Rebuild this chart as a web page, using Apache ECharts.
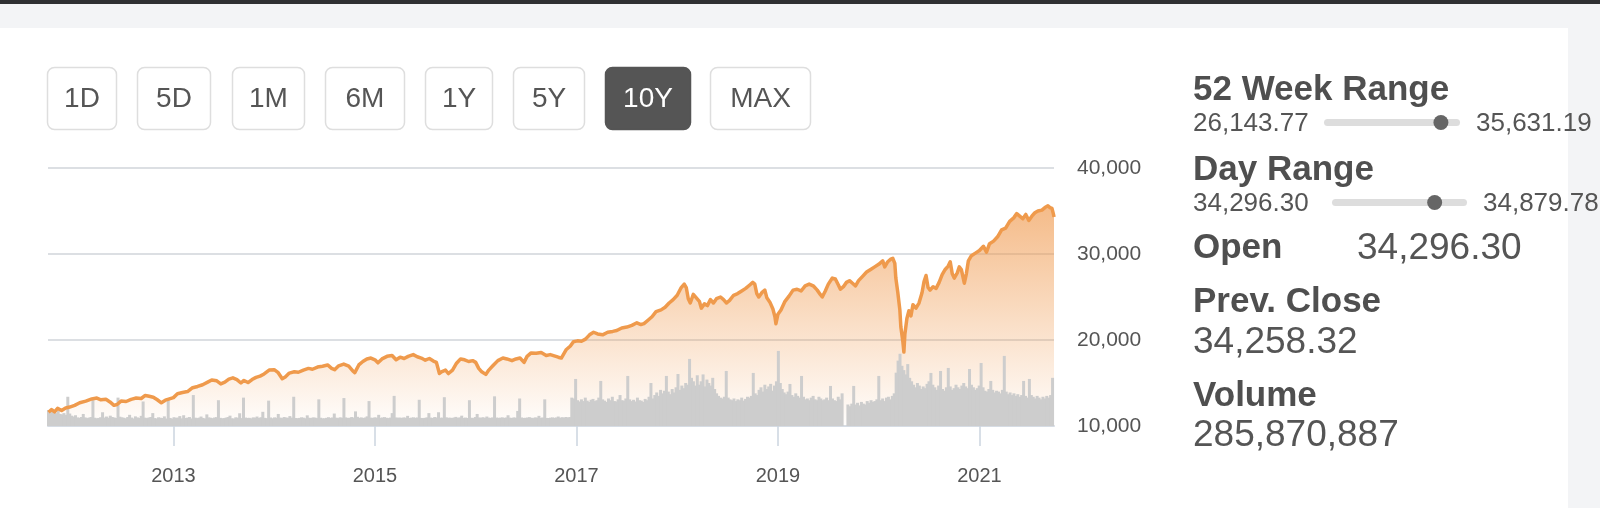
<!DOCTYPE html>
<html>
<head>
<meta charset="utf-8">
<script src="https://cdn.jsdelivr.net/npm/echarts@6/dist/echarts.min.js"></script>
<style>
html,body{margin:0;padding:0;background:#ffffff;}
#chart{width:1600px;height:508px;}
</style>
</head>
<body>
<div id="chart"></div>
<script>
// ---------------- DATA ----------------
const rangeButtons = ['1D', '5D', '1M', '6M', '1Y', '5Y', '10Y', 'MAX'];
const activeButton = '10Y';
const xTickYears = [2013, 2015, 2017, 2019, 2021];
const yMin = 10000, yMax = 40000, yStep = 10000;

// price (decimal year, index level)
const priceDates = [
2011.76,2011.79,2011.82,2011.85,2011.89,2011.93,2011.97,2012.02,2012.07,2012.13,2012.19,2012.24,2012.28,2012.33,2012.37,2012.41,2012.44,2012.48,2012.53,2012.58,
2012.63,2012.68,2012.72,2012.76,2012.80,2012.84,2012.88,2012.92,2012.96,2013.00,2013.04,2013.09,2013.14,2013.19,2013.24,2013.29,2013.34,2013.38,2013.43,2013.47,
2013.51,2013.55,2013.59,2013.63,2013.67,2013.70,2013.74,2013.78,2013.82,2013.86,2013.90,2013.95,2014.00,2014.04,2014.08,2014.11,2014.15,2014.20,2014.24,2014.29,
2014.34,2014.38,2014.43,2014.48,2014.53,2014.57,2014.60,2014.64,2014.69,2014.74,2014.78,2014.80,2014.84,2014.88,2014.92,2014.96,2015.00,2015.03,2015.07,2015.12,
2015.17,2015.21,2015.25,2015.29,2015.33,2015.38,2015.42,2015.46,2015.50,2015.54,2015.58,2015.61,2015.64,2015.66,2015.70,2015.73,2015.77,2015.81,2015.85,2015.89,
2015.93,2015.97,2016.00,2016.03,2016.06,2016.10,2016.13,2016.17,2016.22,2016.27,2016.31,2016.36,2016.40,2016.44,2016.48,2016.51,2016.55,2016.60,2016.65,2016.70,
2016.74,2016.78,2016.82,2016.85,2016.87,2016.90,2016.94,2016.97,2017.01,2017.05,2017.09,2017.13,2017.17,2017.21,2017.26,2017.31,2017.36,2017.40,2017.45,2017.50,
2017.55,2017.60,2017.64,2017.67,2017.71,2017.75,2017.79,2017.84,2017.88,2017.92,2017.96,2018.00,2018.04,2018.07,2018.09,2018.11,2018.13,2018.16,2018.19,2018.22,
2018.24,2018.27,2018.30,2018.33,2018.36,2018.39,2018.43,2018.46,2018.49,2018.52,2018.56,2018.60,2018.64,2018.68,2018.72,2018.75,2018.77,2018.79,2018.81,2018.84,
2018.87,2018.89,2018.92,2018.95,2018.97,2018.98,2019.00,2019.03,2019.07,2019.11,2019.15,2019.19,2019.23,2019.27,2019.31,2019.35,2019.39,2019.42,2019.44,2019.47,
2019.50,2019.54,2019.57,2019.60,2019.62,2019.65,2019.68,2019.71,2019.74,2019.77,2019.80,2019.84,2019.88,2019.92,2019.96,2020.00,2020.04,2020.06,2020.09,2020.12,
2020.14,2020.16,2020.17,2020.19,2020.21,2020.22,2020.24,2020.25,2020.26,2020.28,2020.30,2020.32,2020.34,2020.37,2020.40,2020.43,2020.45,2020.47,2020.49,2020.51,
2020.54,2020.57,2020.60,2020.63,2020.66,2020.69,2020.71,2020.73,2020.75,2020.78,2020.80,2020.82,2020.85,2020.87,2020.89,2020.92,2020.96,2021.00,2021.04,2021.07,
2021.10,2021.14,2021.18,2021.22,2021.26,2021.30,2021.34,2021.37,2021.40,2021.43,2021.46,2021.49,2021.52,2021.55,2021.58,2021.62,2021.65,2021.68,2021.70,2021.72,
2021.735,2021.74
];
const priceValues = [
11600,11900,11650,12050,11800,12100,12200,12400,12700,12900,13150,13250,13050,13100,12800,12400,12500,12900,12850,13100,
13250,13200,13550,13450,13350,13050,12700,13000,13150,13300,13750,13900,14000,14450,14600,14800,15100,15350,15250,14900,
15100,15450,15600,15400,15000,15300,15050,15400,15650,15800,16050,16500,16550,16200,15500,15700,16150,16300,16250,16500,
16700,16600,16850,16950,17100,16700,16550,17000,17200,16950,16400,16200,17100,17500,17800,17900,17700,17350,17800,18100,
18200,17700,18000,17850,18100,18300,18050,17900,17650,17850,17550,17400,16100,16300,16500,16100,16500,17300,17800,17700,
17500,17600,17400,16700,16300,16000,16500,17000,17600,17900,17800,17600,17800,17900,17400,18100,18500,18450,18550,18200,
18300,18150,18000,17900,18300,18900,19300,19800,19900,19850,20100,20600,20900,20700,20600,20900,21000,21100,21400,21500,
21700,22000,21800,21900,22300,22700,23300,23500,23800,24300,24700,25200,26100,26500,26100,24800,24300,25300,24900,24500,
23700,24200,24000,24700,24300,24800,25000,24700,24300,24600,25200,25400,25700,26000,26400,26700,26500,25400,25000,25500,
25800,24900,24400,23600,22700,21900,23000,23500,24500,25100,25800,25900,25700,26300,26500,26300,25800,25300,25000,25700,
26500,27200,27100,26400,25900,26200,26700,26900,26600,26300,26900,27400,27900,28200,28500,28800,29200,28500,29100,29400,
29500,28900,27200,25500,23500,21500,19800,18600,20700,22500,23400,22800,24100,23700,24300,25500,26800,27500,26100,25800,
26200,26000,26700,27600,28200,28600,29100,27700,27200,27800,28500,28200,26600,27700,29200,29800,30100,30400,30900,30200,
31200,31500,32000,32800,33000,33800,34200,34700,34400,34100,34600,33900,34400,34800,35000,35100,35400,35600,35400,35300,
34600,34300
];

// weekly volume samples (millions of shares), first week at volumeStartYear
const volumeStartYear = 2011.76;
const volumeWeekYears = 7 / 365.25;
const volumeValues = [
185,170,200,160,150,175,140,135,150,130,340,145,120,
110,125,100,95,105,140,100,92,98,104,300,96,90,
94,102,160,98,110,96,120,105,99,93,330,108,101,
96,90,104,130,98,88,112,100,94,118,285,97,92,
99,105,150,92,88,101,96,93,112,87,315,94,86,
102,95,98,115,89,125,93,97,104,88,360,97,92,
97,110,94,88,135,100,96,91,99,103,300,95,90,
92,98,104,120,90,87,101,96,148,92,330,98,94,
95,89,100,97,110,93,102,165,95,91,295,99,90,
100,96,140,98,92,104,99,95,115,97,340,93,91,
94,101,97,90,124,96,93,100,98,92,310,96,89,
90,95,102,94,99,145,97,92,101,96,325,100,93,
96,104,98,170,107,95,100,93,99,112,290,97,94,
101,97,130,95,99,103,96,92,98,150,350,99,96,
98,94,100,96,118,93,97,101,95,99,305,94,92,
95,100,150,98,93,104,99,160,96,97,335,101,95,
97,93,99,106,95,100,120,94,98,93,300,96,92,
104,140,99,96,102,95,110,97,94,100,345,98,95,
96,101,94,99,125,97,93,100,96,175,320,99,94,
95,98,103,96,92,100,97,118,95,99,310,94,93,
97,100,95,99,110,96,102,98,105,99,104,330,
320,547,300,285,310,290,330,295,280,305,315,290,300,
330,524,310,295,280,320,300,340,290,285,310,360,300,
295,320,582,310,290,305,285,330,300,295,280,315,300,
340,500,320,360,390,350,420,380,410,582,400,370,430,
390,450,605,420,470,440,500,480,780,560,520,470,590,
480,520,600,460,540,500,470,560,430,380,350,330,320,
340,640,330,310,300,320,290,310,300,330,295,315,340,
330,350,617,380,360,420,450,400,480,430,460,490,410,
470,520,873,500,430,390,370,400,489,360,340,380,350,
330,582,340,310,320,300,330,350,310,300,340,320,300,
310,330,300,466,320,300,290,340,310,380,0,0,250,
230,260,466,250,270,240,280,260,250,290,270,300,280,
290,310,582,300,320,290,330,340,310,350,380,620,760,
840,700,650,600,720,560,520,480,450,500,470,430,460,
440,490,520,617,480,450,420,470,640,430,410,450,675,
460,420,440,480,450,430,470,500,460,440,663,480,450,
420,440,470,733,450,410,400,430,524,420,390,410,400,
380,420,815,400,370,390,360,380,350,370,340,360,524,
350,330,547,360,340,320,350,330,310,340,320,350,330,
360,560
];

// side panel
const week52Low = '26,143.77', week52High = '35,631.19';
const week52Range = [26143.77, 35631.19];
const week52Marker = 34300;
const dayLow = '34,296.30', dayHigh = '34,879.78';
const dayRange = [34296.30, 34879.78];
const dayMarker = 34740;
const openValue = '34,296.30';
const prevCloseValue = '34,258.32';
const volumeValue = '285,870,887';

// ---------------- BUILD ----------------
const FONT = "'Liberation Sans', Arial, Helvetica, sans-serif";
const TXT = '#555555';
const priceData = priceDates.map((d, i) => [d, priceValues[i]]);
const volumeData = volumeValues.map((v, i) => [volumeStartYear + i * volumeWeekYears, v]);

const btnX = [47, 137, 232, 325, 425, 513, 605, 710];
const btnW = [69, 73, 72, 79, 67, 71, 85, 100];
const graphics = [];
// page chrome
graphics.push({type:'rect', shape:{x:0,y:0,width:1600,height:28}, style:{fill:'#f3f4f6'}, silent:true});
graphics.push({type:'rect', shape:{x:0,y:0,width:1600,height:4}, style:{fill:'#2f3032'}, silent:true});
graphics.push({type:'rect', shape:{x:1568,y:28,width:32,height:480}, style:{fill:'#f3f4f6'}, silent:true});
// buttons
rangeButtons.forEach((b, i) => {
  const active = b === activeButton;
  graphics.push({type:'rect', shape:{x:btnX[i]+0.5, y:67.5, width:btnW[i], height:62, r:7},
    style:{fill: active ? '#555555' : '#ffffff', stroke: active ? '#555555' : '#dedede', lineWidth: 1.5}});
  graphics.push({type:'text', style:{text:b, x:btnX[i] + btnW[i]/2 + 0.5, y:99.5, align:'center', verticalAlign:'middle',
    fill: active ? '#ffffff' : TXT, fontSize:28, fontFamily:FONT}});
});
// side panel
function txt(t, x, y, size, bold) {
  graphics.push({type:'text', style:{text:t, x:x, y:y, align:'left', verticalAlign:'middle',
    fill: bold ? '#4f4f4f' : TXT, fontSize:size, fontWeight: bold ? 'bold' : 'normal', fontFamily:FONT}});
}
function slider(x0, x1, y, range, marker) {
  graphics.push({type:'rect', shape:{x:x0, y:y-3.5, width:x1-x0, height:7, r:3.5}, style:{fill:'#dddddd'}});
  const f = (marker - range[0]) / (range[1] - range[0]);
  graphics.push({type:'circle', shape:{cx:x0 + f*(x1-x0), cy:y, r:7.5}, style:{fill:'#666666'}});
}
const PX = 1193;
txt('52 Week Range', PX, 90, 35, true);
txt(week52Low, PX, 123.5, 26, false);
slider(1324, 1460, 122.5, week52Range, week52Marker);
txt(week52High, 1476, 123.5, 26, false);
txt('Day Range', PX, 170.5, 35, true);
txt(dayLow, PX, 203.5, 26, false);
slider(1332, 1467, 202.5, dayRange, dayMarker);
txt(dayHigh, 1483, 203.5, 26, false);
txt('Open', PX, 248.5, 35, true);
txt(openValue, 1357, 248.5, 37, false);
txt('Prev. Close', PX, 302.5, 35, true);
txt(prevCloseValue, PX, 342.5, 37, false);
txt('Volume', PX, 396, 35, true);
txt(volumeValue, PX, 435.5, 37, false);

const chart = echarts.init(document.getElementById('chart'), null, {renderer:'canvas'});
chart.setOption({
  animation: false,
  backgroundColor: '#ffffff',
  grid: {left: 48, right: 546, top: 168, bottom: 82, containLabel: false},
  xAxis: {
    type: 'value', min: 2011.755, max: 2021.74,
    axisLine: {show: true, lineStyle: {color: '#d6dce4', width: 2}},
    axisTick: {show: true, customValues: xTickYears, length: 20, lineStyle: {color: '#ccd5df', width: 1.5}},
    axisLabel: {show: true, customValues: xTickYears, formatter: v => String(Math.round(v)), margin: 40,
      color: TXT, fontSize: 20, fontFamily: FONT},
    splitLine: {show: false}
  },
  yAxis: [{
    type: 'value', position: 'right', min: yMin, max: yMax, interval: yStep,
    axisLine: {show: false}, axisTick: {show: false},
    axisLabel: {margin: 23, color: TXT, fontSize: 21, fontFamily: FONT,
      formatter: v => v.toLocaleString('en-US')},
    splitLine: {show: true, lineStyle: {color: '#dcdfe3', width: 1.8}}
  }, {
    type: 'value', min: 0, max: 3000, show: false,
    splitLine: {show: false}
  }],
  graphic: {elements: graphics},
  series: [{
    type: 'line', data: priceData, z: 1, symbol: 'none', silent: true,
    lineStyle: {width: 0, opacity: 0},
    areaStyle: {origin: 'start', color: new echarts.graphic.LinearGradient(0, 0, 0, 1, [
      {offset: 0, color: 'rgba(239,150,72,0.92)'},
      {offset: 1, color: 'rgba(239,150,72,0.02)'}
    ])}
  }, {
    type: 'bar', data: volumeData, yAxisIndex: 1, z: 2, barWidth: 3, silent: true,
    itemStyle: {color: '#cdcdcd'}
  }, {
    type: 'line', data: priceData, z: 3, symbol: 'none', silent: true,
    lineStyle: {width: 3.5, color: '#ef9a4c', join: 'round'}
  }]
});
</script>
</body>
</html>
